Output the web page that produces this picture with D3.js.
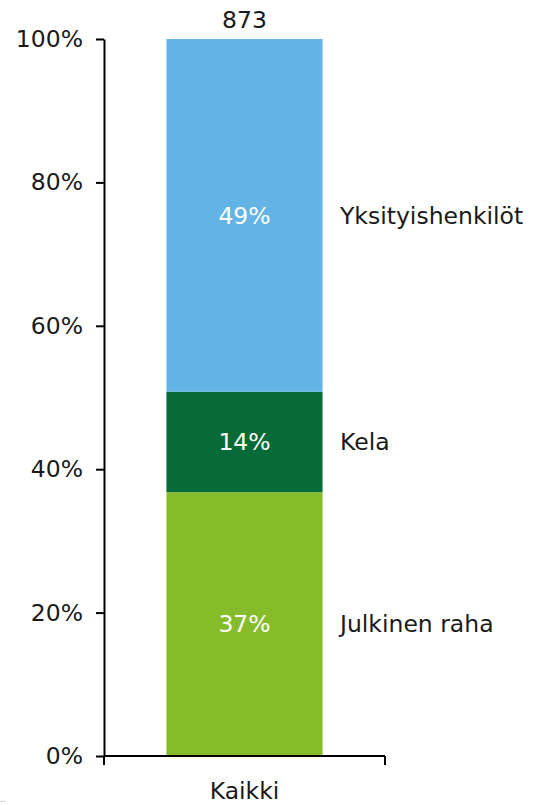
<!DOCTYPE html>
<html>
<head>
<meta charset="utf-8">
<script src="https://cdn.jsdelivr.net/npm/d3@7"></script>
<style>
  body { margin: 0; background: #fff; }
  text { font-family: "DejaVu Sans", Verdana, sans-serif; }
</style>
</head>
<body>
<div id="chart"></div>
<script>
// data
const categories = ["Kaikki"];
const seriesNames = ["Julkinen raha", "Kela", "Yksityishenkilöt"];
const seriesValues = [36.8, 14.0, 49.2];
const seriesColors = ["#86bc29", "#066b38", "#63b4e4"];
const totals = [873];
const yTicks = [0, 20, 40, 60, 80, 100];

const width = 533, height = 805;
const margin = { top: 39, left: 104, bottom: 49, right: 148 };
const fs = 23.5;

const svg = d3.select("#chart").append("svg")
    .attr("width", width)
    .attr("height", height);

const x = d3.scaleBand()
    .domain(categories)
    .range([margin.left, width - margin.right])
    .paddingInner(0)
    .paddingOuter(0.4);

const y = d3.scaleLinear()
    .domain([0, 100])
    .range([height - margin.bottom, margin.top]);

// stack the series
let acc = 0;
const stacked = seriesValues.map((v, i) => {
    const s = { name: seriesNames[i], y0: acc, y1: acc + v, v: v, color: seriesColors[i] };
    acc += v;
    return s;
});

const bar = svg.append("g");
bar.selectAll("rect")
    .data(stacked)
    .join("rect")
    .attr("x", x(categories[0]))
    .attr("width", x.bandwidth())
    .attr("y", d => y(d.y1))
    .attr("height", d => y(d.y0) - y(d.y1))
    .attr("fill", d => d.color);

// value labels inside segments
bar.selectAll("text.val")
    .data(stacked)
    .join("text")
    .attr("class", "val")
    .attr("x", x(categories[0]) + x.bandwidth() / 2)
    .attr("y", d => y((d.y0 + d.y1) / 2))
    .attr("dy", "0.35em")
    .attr("text-anchor", "middle")
    .attr("fill", "#fff")
    .attr("font-size", fs)
    .text(d => Math.round(d.v) + "%");

// series names to the right
bar.selectAll("text.name")
    .data(stacked)
    .join("text")
    .attr("class", "name")
    .attr("x", 340)
    .attr("y", d => y((d.y0 + d.y1) / 2))
    .attr("dy", "0.35em")
    .attr("fill", "#1a1a1a")
    .attr("font-size", fs)
    .text(d => d.name);

// total above bar
svg.append("text")
    .attr("x", x(categories[0]) + x.bandwidth() / 2)
    .attr("y", y(100) - 11)
    .attr("text-anchor", "middle")
    .attr("fill", "#1a1a1a")
    .attr("font-size", fs)
    .text(totals[0]);

// y axis
const yAxis = svg.append("g")
    .attr("transform", `translate(${margin.left},0)`)
    .call(d3.axisLeft(y).tickValues(yTicks).tickFormat(d => d + "%").tickSize(8).tickSizeOuter(0));
yAxis.select(".domain").attr("stroke", "#000").attr("stroke-width", 2);
yAxis.selectAll(".tick line").attr("stroke", "#000").attr("stroke-width", 2);
yAxis.selectAll(".tick text")
    .attr("x", -21)
    .attr("font-size", fs)
    .attr("fill", "#1a1a1a")
    .style("font-family", "DejaVu Sans, Verdana, sans-serif");

// x axis
const xAxis = svg.append("g")
    .attr("transform", `translate(0,${height - margin.bottom})`);
xAxis.append("line")
    .attr("x1", margin.left).attr("x2", width - margin.right)
    .attr("stroke", "#000").attr("stroke-width", 2);
xAxis.selectAll("line.tk")
    .data([margin.left, width - margin.right])
    .join("line")
    .attr("class", "tk")
    .attr("x1", d => d).attr("x2", d => d)
    .attr("y1", 0).attr("y2", 9)
    .attr("stroke", "#000").attr("stroke-width", 2);
xAxis.selectAll("text")
    .data(categories)
    .join("text")
    .attr("x", d => x(d) + x.bandwidth() / 2)
    .attr("y", 43)
    .attr("text-anchor", "middle")
    .attr("fill", "#1a1a1a")
    .attr("font-size", fs)
    .text(d => d);

// small mark bottom-left
svg.append("text")
    .attr("x", 0)
    .attr("y", 802)
    .attr("font-size", 9)
    .attr("fill", "#999")
    .text("..");
</script>
</body>
</html>
